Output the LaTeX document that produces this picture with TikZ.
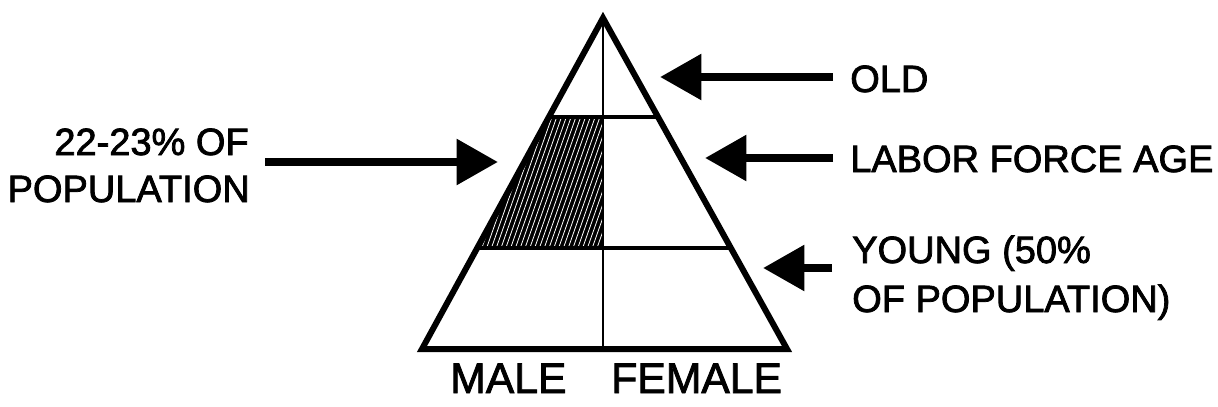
\documentclass[tikz,border=0pt]{standalone}
\usepackage{fontspec}
\setmainfont{Liberation Sans}[FakeBold=2]
\usetikzlibrary{arrows.meta}
\begin{document}
\begin{tikzpicture}[x=0.75pt,y=-0.75pt,
  lbl/.style={inner sep=0pt,font=\fontsize{28.5}{36}\selectfont},
  sexlbl/.style={inner sep=0pt,font=\fontsize{32}{38}\selectfont},
  pyr/.style={line width=4.5pt,line join=miter},
  divider/.style={line width=2.2pt},
  band/.style={line width=3pt},
  ptr/.style={line width=6.5pt,-{Triangle[length=31pt,width=33pt]}},
  hatchline/.style={white,line width=0.6pt}
]
\useasboundingbox (0,0) rectangle (1218,407);
% pyramid corners
\coordinate (A) at (603,18);
\coordinate (L) at (422,349);
\coordinate (R) at (787,349);
\coordinate (B) at (603,349);
% band boundaries
\coordinate (u1) at (548.9,117);
\coordinate (u2) at (658.0,117);
\coordinate (um) at (603,117);
\coordinate (l1) at (477.2,248);
\coordinate (l2) at (730.9,248);
\coordinate (lm) at (603,248);
% hatched male labour-force block
\begin{scope}
  \clip (u1) -- (um) -- (lm) -- (l1) -- cycle;
  \fill[black] (470,110) rectangle (610,255);
  \foreach \i in {0,...,42} \draw[hatchline] ({418+\i*4.8},252) -- ++(50,-142);
\end{scope}
% lines
\draw[band] (u1) -- (u2);
\draw[band] (l1) -- (l2);
\draw[divider] (A) -- (B);
\draw[pyr] (A) -- (L) -- (R) -- cycle;
% labels
\node[lbl,anchor=base west] (old) at (850,92) {OLD};
\node[lbl,anchor=base west] (labor) at (850,172) {LABOR FORCE AGE};
\node[lbl,anchor=base west] (young1) at (852,263) {YOUNG (50\%};
\node[lbl,anchor=base west] (young2) at (852,312) {OF POPULATION)};
\node[lbl,anchor=base east] (pct1) at (249,155) {22-23\% OF};
\node[lbl,anchor=base east] (pct2) at (250,202) {POPULATION};
\node[sexlbl,anchor=base west] (male) at (450,393) {MALE};
\node[sexlbl,anchor=base west] (female) at (611,393) {FEMALE};
% arrows
\coordinate (oldS) at (833,77);   \coordinate (oldT) at (660,77);
\coordinate (labS) at (833,158);  \coordinate (labT) at (705,158);
\coordinate (yngS) at (832,268);  \coordinate (yngT) at (763,268);
\coordinate (pctS) at (265,162);  \coordinate (pctT) at (498,162);
\draw[ptr] (oldS) -- (oldT);
\draw[ptr] (labS) -- (labT);
\draw[ptr] (yngS) -- (yngT);
\draw[ptr] (pctS) -- (pctT);
\end{tikzpicture}
\end{document}
